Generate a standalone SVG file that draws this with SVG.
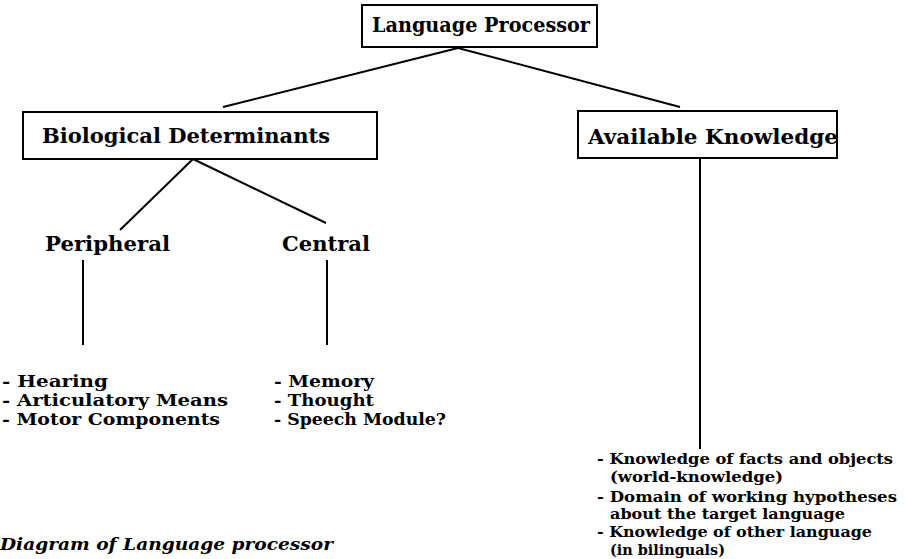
<svg xmlns="http://www.w3.org/2000/svg" width="905" height="559" viewBox="0 0 905 559">
<style>
.box{fill:#fff;stroke:#000;stroke-width:2}
.t{font-family:"DejaVu Serif","Liberation Serif",serif;font-weight:bold;fill:#000}
.h{font-size:20px}
.l{font-size:17px}
.r{font-size:15px}
.cap{font-family:"DejaVu Serif","Liberation Serif",serif;font-style:italic;font-weight:bold;font-size:17px;fill:#000}
.c{stroke:#000;stroke-width:2;fill:none}
</style>
<rect width="905" height="559" fill="#fff"/>
<g id="connectors">
<line class="c" x1="458" y1="48" x2="223" y2="107"/>
<line class="c" x1="458" y1="48" x2="680" y2="107"/>
<line class="c" x1="193" y1="159" x2="120" y2="230"/>
<line class="c" x1="193" y1="159" x2="326" y2="223"/>
<line class="c" x1="83" y1="260" x2="83" y2="345"/>
<line class="c" x1="327" y1="260" x2="327" y2="345"/>
<line class="c" x1="700" y1="158" x2="700" y2="449"/>
</g>
<g id="language-processor">
<rect class="box" x="362" y="5" width="235" height="42"/>
<text class="t h" x="372" y="32" textLength="218" lengthAdjust="spacingAndGlyphs">Language Processor</text>
</g>
<g id="biological-determinants">
<rect class="box" x="23" y="112" width="354" height="47"/>
<text class="t h" x="42" y="143" textLength="288" lengthAdjust="spacingAndGlyphs">Biological Determinants</text>
</g>
<g id="available-knowledge">
<rect class="box" x="578" y="111" width="259" height="47"/>
<text class="t h" x="588" y="144" textLength="250" lengthAdjust="spacingAndGlyphs">Available Knowledge</text>
</g>
<g id="peripheral">
<text class="t h" x="45" y="251" textLength="125" lengthAdjust="spacingAndGlyphs">Peripheral</text>
</g>
<g id="central">
<text class="t h" x="282" y="251" textLength="88" lengthAdjust="spacingAndGlyphs">Central</text>
</g>
<g id="peripheral-list">
<text class="t l" x="2" y="387" textLength="106" lengthAdjust="spacingAndGlyphs">- Hearing</text>
<text class="t l" x="2" y="406" textLength="226" lengthAdjust="spacingAndGlyphs">- Articulatory Means</text>
<text class="t l" x="2" y="425" textLength="218" lengthAdjust="spacingAndGlyphs">- Motor Components</text>
</g>
<g id="central-list">
<text class="t l" x="274" y="387" textLength="100" lengthAdjust="spacingAndGlyphs">- Memory</text>
<text class="t l" x="274" y="406" textLength="100" lengthAdjust="spacingAndGlyphs">- Thought</text>
<text class="t l" x="274" y="425" textLength="172" lengthAdjust="spacingAndGlyphs">- Speech Module?</text>
</g>
<g id="knowledge-list">
<text class="t r" x="597" y="464" textLength="296" lengthAdjust="spacingAndGlyphs">- Knowledge of facts and objects</text>
<text class="t r" x="610" y="482" textLength="173" lengthAdjust="spacingAndGlyphs">(world-knowledge)</text>
<text class="t r" x="597" y="502" textLength="300" lengthAdjust="spacingAndGlyphs">- Domain of working hypotheses</text>
<text class="t r" x="610" y="519" textLength="235" lengthAdjust="spacingAndGlyphs">about the target language</text>
<text class="t r" x="597" y="537" textLength="275" lengthAdjust="spacingAndGlyphs">- Knowledge of other language</text>
<text class="t r" x="610" y="555" textLength="115" lengthAdjust="spacingAndGlyphs">(in bilinguals)</text>
</g>
<text class="cap" x="0" y="550" textLength="333" lengthAdjust="spacingAndGlyphs">Diagram of Language processor</text>
</svg>
